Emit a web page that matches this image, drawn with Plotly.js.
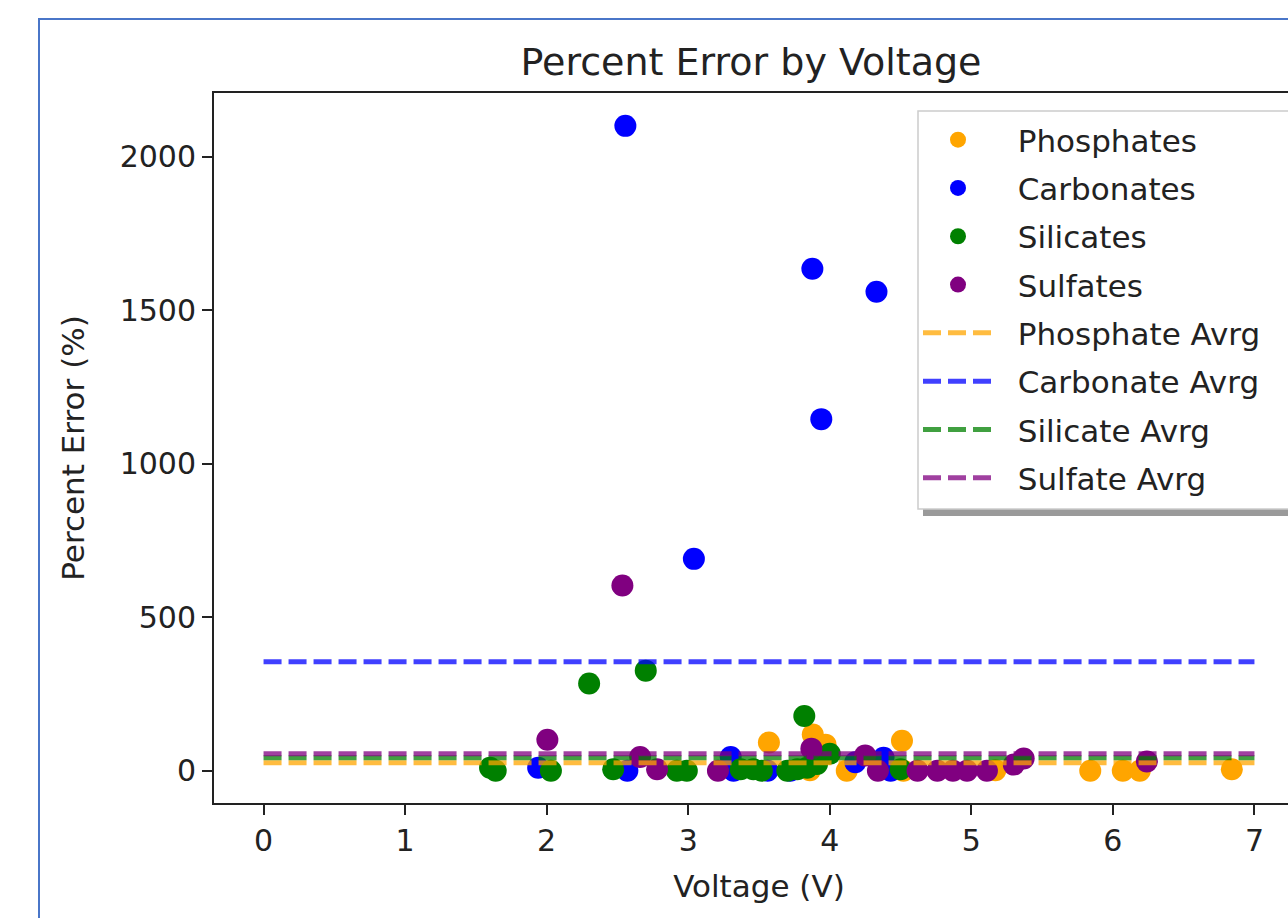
<!DOCTYPE html>
<html>
<head>
<meta charset="utf-8">
<script src="https://cdn.plot.ly/plotly-3.0.1.min.js"></script>
<style>
  html, body { margin: 0; padding: 0; overflow: hidden; background: #ffffff; width: 1288px; height: 918px; }
  #chart { position: absolute; left: 0; top: 0; width: 1340px; height: 918px; }
  #frame { position: absolute; left: 38px; top: 18px; width: 1400px; height: 1000px;
           border-left: 2px solid #4a76c8; border-top: 2px solid #4a76c8; pointer-events: none; }
</style>
</head>
<body>
<div id="chart"></div>
<div id="frame"></div>
<script>
// ---- data ----
const phosphateV   = [3.57, 3.88, 3.97, 3.86, 4.12, 4.51, 4.52, 5.17, 5.84, 6.07, 6.19, 6.84];
const phosphateErr = [92, 118, 85, 2, 0, 98, 0, 2, 0, 0, 0, 5];

const carbonateV   = [2.556, 3.877, 4.33, 3.94, 3.04, 1.94, 2.57, 3.30, 3.32, 3.56, 3.72, 4.18, 4.38, 4.43];
const carbonateErr = [2100, 1635, 1560, 1145, 690, 10, 0, 45, 0, 0, 0, 28, 42, 0];

const silicateV   = [2.70, 2.30, 3.82, 1.60, 1.64, 2.03, 2.47, 2.92, 2.99, 3.37, 3.46, 3.52, 3.70, 3.77, 3.84, 3.91, 4.00, 4.50];
const silicateErr = [326, 284, 178, 10, 0, 0, 5, 0, 0, 5, 5, 0, 0, 5, 10, 22, 55, 5];

const sulfateV   = [2.535, 2.005, 3.87, 2.66, 2.78, 3.21, 4.25, 4.34, 4.62, 4.76, 4.87, 4.97, 5.11, 5.30, 5.37, 6.24];
const sulfateErr = [603, 101, 72, 45, 5, 0, 50, 0, 0, 0, 0, 0, 0, 20, 40, 30];

const avgX = [0, 7];
const avgNames  = ["Phosphate Avrg", "Carbonate Avrg", "Silicate Avrg", "Sulfate Avrg"];
const avgValues = [26, 355, 42, 55];

const scatterNames = ["Phosphates", "Carbonates", "Silicates", "Sulfates"];
const xTicks = [0, 1, 2, 3, 4, 5, 6, 7];
const yTicks = [0, 500, 1000, 1500, 2000];

// ---- styles ----
const colors = ["#ffa500", "#0000ff", "#008000", "#800080"];
const FONT = "DejaVu Sans, Verdana, sans-serif";
const PAD = "\u00a0\u00a0";

const scatterX = [phosphateV, carbonateV, silicateV, sulfateV];
const scatterY = [phosphateErr, carbonateErr, silicateErr, sulfateErr];

const traces = [];
for (let i = 0; i < 4; i++) {
  traces.push({
    type: "scatter", mode: "markers", name: PAD + scatterNames[i],
    x: scatterX[i], y: scatterY[i], legendgroup: "s" + i,
    marker: { color: colors[i], size: 22, line: { width: 0 } }
  });
}
for (let i = 0; i < 4; i++) {
  traces.push({
    type: "scatter", mode: "lines", name: PAD + avgNames[i],
    x: avgX, y: [avgValues[i], avgValues[i]], legendgroup: "a" + i,
    opacity: 0.75,
    line: { color: colors[i], width: 5, dash: "18px,7px" }
  });
}

// plot area in pixels: x 214..1304, y 93..803
const PL = 214, PW = 1090, PT = 93, PH = 710;
const px = v => (v - PL) / PW;
const py = v => 1 - (v - PT) / PH;

const layout = {
  width: 1340, height: 918,
  margin: { l: 214, r: 36, t: 93, b: 115 },
  paper_bgcolor: "rgba(0,0,0,0)",
  plot_bgcolor: "#ffffff",
  font: { family: FONT, color: "#222222", size: 30 },
  title: {
    text: "Percent Error by Voltage",
    font: { family: FONT, size: 38, color: "#222222" },
    xref: "container", x: 751 / 1340, xanchor: "center",
    yref: "container", y: 1 - 62 / 918, yanchor: "middle"
  },
  xaxis: {
    range: [-0.35, 7.35],
    tickmode: "array", tickvals: xTicks, ticktext: xTicks.map(String),
    ticks: "outside", ticklen: 10, tickwidth: 2, tickcolor: "#222222",
    showline: true, linecolor: "#222222", linewidth: 2, mirror: true,
    showgrid: false, zeroline: false,
    tickfont: { family: FONT, size: 30, color: "#222222" },
    title: { text: "Voltage (V)", font: { family: FONT, size: 31, color: "#222222" }, standoff: 18 }
  },
  yaxis: {
    range: [-105, 2207],
    tickmode: "array", tickvals: yTicks, ticktext: yTicks.map(String),
    ticks: "outside", ticklen: 10, tickwidth: 2, tickcolor: "#222222",
    showline: true, linecolor: "#222222", linewidth: 2, mirror: true,
    showgrid: false, zeroline: false,
    tickfont: { family: FONT, size: 30, color: "#222222" },
    title: { text: "Percent Error (%)", font: { family: FONT, size: 31, color: "#222222" }, standoff: 26 }
  },
  legend: {
    x: px(918), y: py(113), xanchor: "left", yanchor: "top",
    bgcolor: "rgba(255,255,255,0)", bordercolor: "#cccccc", borderwidth: 0,
    font: { family: FONT, size: 31, color: "#222222" },
    itemwidth: 70, tracegroupgap: 5, traceorder: "grouped"
  },
  shapes: [
    { // legend shadow
      type: "rect", xref: "paper", yref: "paper", layer: "above",
      x0: px(923), x1: px(1400), y0: py(516), y1: py(118),
      fillcolor: "#9a9a9a", line: { width: 0 }
    },
    { // legend frame (continues past the right edge as in the reference)
      type: "rect", xref: "paper", yref: "paper", layer: "above",
      x0: px(918), x1: px(1400), y0: py(509), y1: py(111),
      fillcolor: "#ffffff", line: { width: 1.5, color: "#cccccc" }
    }
  ],
  showlegend: true
};

Plotly.newPlot("chart", traces, layout, { displayModeBar: false, staticPlot: true });
</script>
</body>
</html>
